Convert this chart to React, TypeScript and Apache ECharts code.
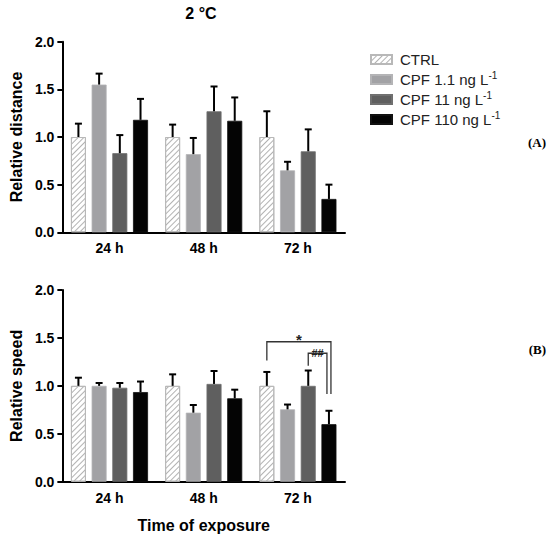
import React, { useEffect, useRef } from "react";
import * as echarts from "echarts";

const categories = ["24 h", "48 h", "72 h"];
const seriesNames = ["CTRL", "CPF 1.1 ng L-1", "CPF 11 ng L-1", "CPF 110 ng L-1"];
const yTicks = [0, 0.5, 1.0, 1.5, 2.0];

// Panel A: relative distance (mean, SEM)
const ctrlDist = [1.0, 1.0, 1.0];
const ctrlDistErr = [0.14, 0.13, 0.27];
const cpf1Dist = [1.55, 0.82, 0.65];
const cpf1DistErr = [0.115, 0.17, 0.09];
const cpf11Dist = [0.83, 1.27, 0.85];
const cpf11DistErr = [0.19, 0.26, 0.23];
const cpf110Dist = [1.18, 1.17, 0.35];
const cpf110DistErr = [0.22, 0.245, 0.15];

// Panel B: relative speed (mean, SEM)
const ctrlSpeed = [1.0, 1.0, 1.0];
const ctrlSpeedErr = [0.085, 0.12, 0.145];
const cpf1Speed = [1.0, 0.72, 0.755];
const cpf1SpeedErr = [0.03, 0.08, 0.05];
const cpf11Speed = [0.98, 1.02, 1.0];
const cpf11SpeedErr = [0.05, 0.135, 0.16];
const cpf110Speed = [0.935, 0.87, 0.6];
const cpf110SpeedErr = [0.11, 0.09, 0.14];

// Significance brackets in panel B (category index, bar indices, heights in data units)
const sigBrackets = [
  { cat: 2, from: 0, to: 3, top: 1.46, fromEnd: 1.265, toEnd: 0.915, label: "*" },
  { cat: 2, from: 2, to: 3, top: 1.34, fromEnd: 1.21, toEnd: 0.915, label: "##" },
];

const FONT = "'Liberation Sans', Arial, Helvetica, sans-serif";
const SERIF = "'Liberation Serif', 'Times New Roman', serif";
const BAR_W = 15;
const BAR_GAP = 0.38;
const barOffset = (i: number) => {
  const pitch = BAR_W * (1 + BAR_GAP);
  const total = 4 * BAR_W + 3 * BAR_W * BAR_GAP;
  return -total / 2 + BAR_W / 2 + i * pitch;
};

const barStyles: any[] = [
  {
    color: "#ffffff",
    borderColor: "#b8b8b8",
    borderWidth: 1,
    decal: {
      symbol: "rect",
      symbolSize: 1,
      color: "#b2b2b2",
      dashArrayX: [1, 0],
      dashArrayY: [1, 2.6],
      rotation: -Math.PI / 4,
    },
  },
  { color: "#a2a2a5", borderColor: "#b4b4b6", borderWidth: 0.8 },
  { color: "#5f5f5f", borderColor: "#707070", borderWidth: 0.8 },
  { color: "#040404", borderColor: "#111", borderWidth: 0.8 },
];

const distMeans = [ctrlDist, cpf1Dist, cpf11Dist, cpf110Dist];
const distErrs = [ctrlDistErr, cpf1DistErr, cpf11DistErr, cpf110DistErr];
const speedMeans = [ctrlSpeed, cpf1Speed, cpf11Speed, cpf110Speed];
const speedErrs = [ctrlSpeedErr, cpf1SpeedErr, cpf11SpeedErr, cpf110SpeedErr];

function makeAxes(gridIndex: number, yName: string, xName: string) {
  const x = {
    type: "category",
    gridIndex,
    data: categories,
    name: xName,
    nameLocation: "middle",
    nameGap: 36,
    nameTextStyle: { fontFamily: FONT, fontWeight: "bold", fontSize: 16, color: "#000" },
    axisLine: { lineStyle: { color: "#000", width: 2 } },
    axisTick: { alignWithLabel: true, length: 5, lineStyle: { color: "#000", width: 2 } },
    axisLabel: { fontFamily: FONT, fontWeight: "bold", fontSize: 14, color: "#000", margin: 9 },
    splitLine: { show: false },
  };
  const y = {
    type: "value",
    gridIndex,
    min: 0,
    max: 2,
    interval: 0.5,
    name: yName,
    nameLocation: "middle",
    nameGap: 33,
    nameRotate: 90,
    nameTextStyle: { fontFamily: FONT, fontWeight: "bold", fontSize: 16, color: "#000" },
    axisLine: { show: true, lineStyle: { color: "#000", width: 2 } },
    axisTick: { show: true, length: 5, lineStyle: { color: "#000", width: 2 } },
    axisLabel: {
      fontFamily: FONT,
      fontWeight: "bold",
      fontSize: 14,
      color: "#000",
      margin: 8,
      formatter: (v: number) => (yTicks.includes(v) ? v.toFixed(1) : ""),
    },
    splitLine: { show: false },
  };
  return { x, y };
}

function makeSeries(gridIndex: number, means: number[][], errs: number[][]) {
  const out: any[] = [];
  means.forEach((m, i) => {
    out.push({
      type: "bar",
      name: seriesNames[i],
      xAxisIndex: gridIndex,
      yAxisIndex: gridIndex,
      data: m,
      barWidth: BAR_W,
      barGap: BAR_GAP * 100 + "%",
      itemStyle: barStyles[i],
      z: 2,
    });
  });
  means.forEach((m, i) => {
    out.push({
      type: "custom",
      xAxisIndex: gridIndex,
      yAxisIndex: gridIndex,
      data: m.map((v, c) => [c, v, errs[i][c]]),
      z: 3,
      silent: true,
      renderItem: (_p: any, api: any) => {
        const c = api.value(0);
        const v = api.value(1);
        const e = api.value(2);
        const base = api.coord([c, v]);
        const top = api.coord([c, v + e]);
        const x = base[0] + barOffset(i);
        return {
          type: "group",
          children: [
            { type: "line", shape: { x1: x, y1: base[1], x2: x, y2: top[1] }, style: { stroke: "#000", lineWidth: 2 } },
            { type: "line", shape: { x1: x - 3.5, y1: top[1], x2: x + 3.5, y2: top[1] }, style: { stroke: "#000", lineWidth: 2 } },
          ],
        };
      },
    });
  });
  return out;
}

export default function App() {
  const ref = useRef<HTMLDivElement>(null);
  useEffect(() => {
    if (!ref.current) return;
    const chart = echarts.init(ref.current, undefined, { renderer: "svg" });
    const a = makeAxes(0, "Relative distance", "");
    const b = makeAxes(1, "Relative speed", "Time of exposure");

    const bracketSeries = {
      type: "custom",
      xAxisIndex: 1,
      yAxisIndex: 1,
      z: 4,
      silent: true,
      data: sigBrackets.map((s) => [s.cat, s.top, s.fromEnd, s.toEnd, s.from, s.to]),
      renderItem: (params: any, api: any) => {
        const s = sigBrackets[params.dataIndex];
        const center = api.coord([s.cat, s.top]);
        const nudge = params.dataIndex === 0 ? 2 : -2;
        const xL = center[0] + barOffset(s.from);
        const xR = center[0] + barOffset(s.to) + nudge;
        const yH = center[1];
        const yL = api.coord([s.cat, s.fromEnd])[1];
        const yR = api.coord([s.cat, s.toEnd])[1];
        const isHash = s.label.includes("#");
        return {
          type: "group",
          children: [
            {
              type: "polyline",
              shape: { points: [[xL, yL], [xL, yH], [xR, yH], [xR, yR]] },
              style: { stroke: "#333", lineWidth: 1.3, fill: null },
            },
            {
              type: "text",
              x: (xL + xR) / 2,
              y: isHash ? yH : yH - 2,
              style: {
                text: s.label,
                align: "center",
                verticalAlign: "middle",
                fontFamily: FONT,
                fontSize: isHash ? 11 : 15,
                fontWeight: "bold",
                fill: "#222",
              },
            },
          ],
        };
      },
    };

    chart.setOption({
      animation: false,
      backgroundColor: "#fff",
      grid: [
        { left: 57.5, top: 41.7, width: 287.5, height: 190.6 },
        { left: 58, top: 290, width: 287, height: 191.7 },
      ],
      xAxis: [a.x, b.x],
      yAxis: [a.y, b.y],
      legend: {
        orient: "vertical",
        left: 365,
        top: 47,
        icon: "rect",
        itemWidth: 21,
        itemHeight: 9,
        itemGap: 3,
        data: seriesNames,
        selectedMode: false,
        formatter: (name: string) =>
          name.endsWith("-1") ? `{n|${name.slice(0, -2)}}{s|-1}` : `{n|${name}}`,
        textStyle: {
          padding: [0, 0, 0, 3],
          rich: {
            n: { fontFamily: FONT, fontSize: 15, color: "#222", lineHeight: 19 },
            s: { fontFamily: FONT, fontSize: 10, color: "#222", lineHeight: 11, verticalAlign: "top" },
          },
        },
      },
      graphic: [
        {
          type: "text",
          x: 201,
          y: 13,
          style: { text: "2 °C", align: "center", verticalAlign: "middle", fontFamily: FONT, fontWeight: "bold", fontSize: 16, fill: "#000" },
        },
        {
          type: "text",
          x: 546,
          y: 142,
          style: { text: "(A)", align: "right", verticalAlign: "middle", fontFamily: SERIF, fontWeight: "bold", fontSize: 13, fill: "#000" },
        },
        {
          type: "text",
          x: 546,
          y: 349,
          style: { text: "(B)", align: "right", verticalAlign: "middle", fontFamily: SERIF, fontWeight: "bold", fontSize: 13, fill: "#000" },
        },
      ],
      series: [...makeSeries(0, distMeans, distErrs), ...makeSeries(1, speedMeans, speedErrs), bracketSeries],
    });
    return () => chart.dispose();
  }, []);
  return <div ref={ref} style={{ position: "absolute", left: 0, top: 0, width: 550, height: 542 }} />;
}
